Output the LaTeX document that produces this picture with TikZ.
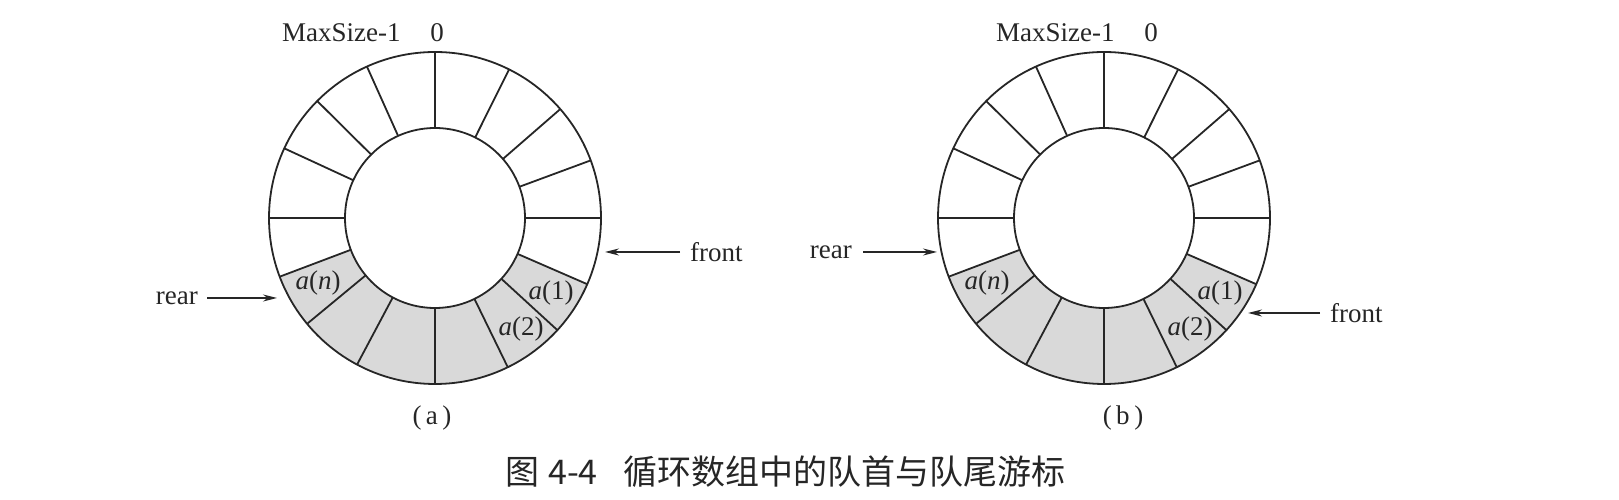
\documentclass[tikz,border=0pt]{standalone}
\usepackage{fontspec}
\setmainfont{Liberation Serif}
\newfontfamily\cjk{Noto Sans CJK SC}
\usetikzlibrary{arrows.meta}
\begin{document}
\begin{tikzpicture}[x=1pt,y=1pt,
  ring/.style={line width=1.8pt, draw=black!85},
  cellfill/.style={fill=black!15},
  lbl/.style={font=\fontsize{27}{30}\selectfont, inner sep=0pt, text=black!85},
  captext/.style={font=\fontsize{34}{38}\selectfont, inner sep=0pt, text=black!85},
  ptr/.style={line width=1.4pt, draw=black!85, -{Stealth[length=14pt,width=7pt]}},
]
\useasboundingbox (0,0) rectangle (1619,500);
\foreach \cx/\nm in {435/A,1104/B}{
  \begin{scope}[shift={(\cx,282)}]
    \fill[cellfill] (-159.3:166) arc[start angle=-159.3,end angle=-23.5,radius=166]
      -- (-23.5:90) arc[start angle=-23.5,end angle=-159.3,radius=90] -- cycle;
    \draw[ring] (0,0) circle[radius=166];
    \draw[ring] (0,0) circle[radius=90];
    \foreach \a in {90,63.5,41,20.3,0,-23.5,-42.5,-64,-90,-118,-140.4,-159.3,180,155.2,135.2,114.2}
      \draw[ring] (\a:90) -- (\a:166);
    \node[lbl] (an\nm) at (-117,-65) {\textit{a}(\textit{n})};
    \node[lbl] (aone\nm) at (116,-75) {\textit{a}(1)};
    \node[lbl] (atwo\nm) at (86,-111) {\textit{a}(2)};
  \end{scope}
}
% top labels
\node[lbl, anchor=west] (maxA) at (282,467) {MaxSize-1};
\node[lbl] (zeroA) at (437,467) {0};
\node[lbl, anchor=west] (maxB) at (996,467) {MaxSize-1};
\node[lbl] (zeroB) at (1151,467) {0};
% sub captions
\node[lbl] (subA) at (432,82) {(\,a\,)};
\node[lbl] (subB) at (1123,82) {(\,b\,)};
% pointers (a)
\node[lbl, anchor=east] (rearA) at (198,202) {rear};
\coordinate (rearTipA) at (277,202);
\draw[ptr, shorten <=9pt] (rearA.east) -- (rearTipA);
\node[lbl, anchor=west] (frontA) at (690,248) {front};
\coordinate (frontTipA) at (605,248);
\draw[ptr, shorten <=10pt] (frontA.west) -- (frontTipA);
% pointers (b)
\node[lbl, anchor=east] (rearB) at (852,248) {rear};
\coordinate (rearTipB) at (937,248);
\draw[ptr, shorten <=11pt] (rearB.east) -- (rearTipB);
\node[lbl, anchor=west] (frontB) at (1330,187) {front};
\coordinate (frontTipB) at (1248,187);
\draw[ptr, shorten <=10pt] (frontB.west) -- (frontTipB);
% caption
\node[captext, anchor=west] (capnum) at (505,28) {\cjk 图\kern 9pt 4-4};
\node[captext, anchor=west] (captitle) at (623,28) {\cjk 循环数组中的队首与队尾游标};
\end{tikzpicture}
\end{document}
